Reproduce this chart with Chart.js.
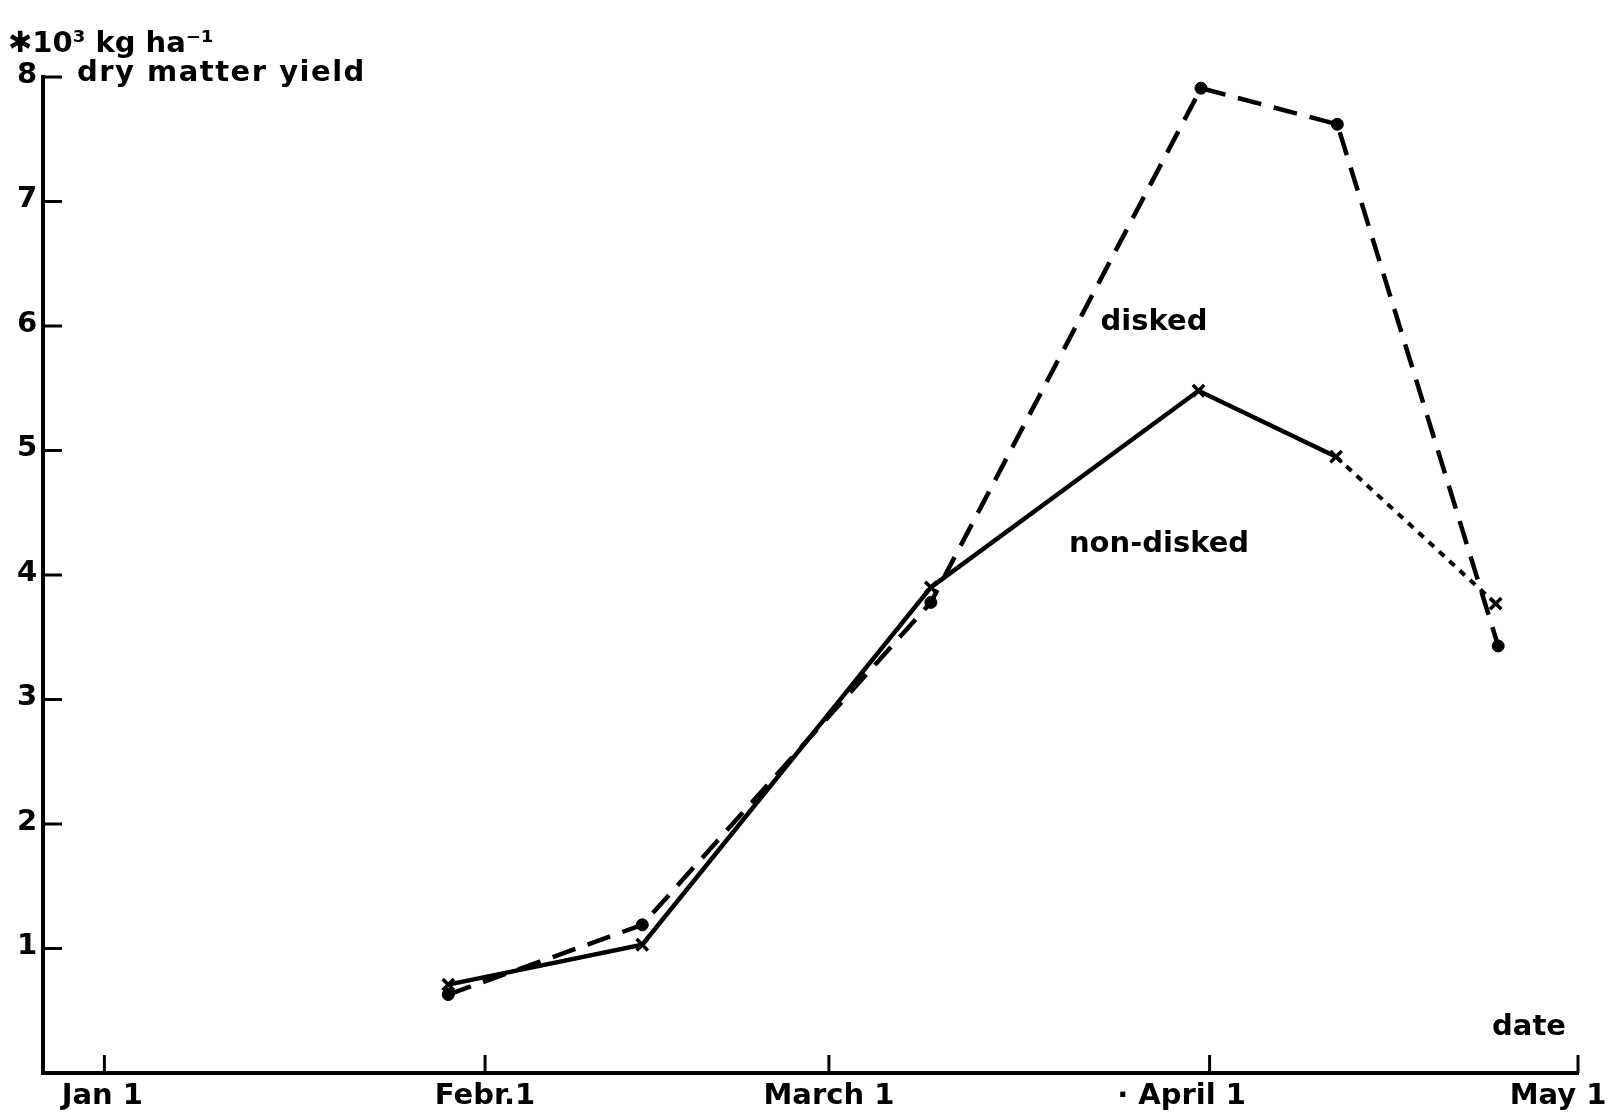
<!DOCTYPE html>
<html>
<head>
<meta charset="utf-8">
<script src="https://cdn.jsdelivr.net/npm/chart.js@4.4.1/dist/chart.umd.min.js"></script>
<style>
html,body{margin:0;padding:0;background:#fff;}
#wrap{width:1617px;height:1117px;position:relative;}
</style>
</head>
<body>
<div id="wrap"><canvas id="c" width="1617" height="1117"></canvas></div>
<script>
// Day of year (Jan 1 = 0) of each sampling point
const diskedDays = [28, 43.8, 67.3, 89.3, 100.4, 113.5];
const diskedYield = [0.63, 1.19, 3.78, 7.91, 7.62, 3.43];
const nonDiskedDays = [28, 43.8, 67.3, 89.1, 100.3, 113.3];
const nonDiskedYield = [0.71, 1.03, 3.90, 5.48, 4.95, 3.77];
const xTickValues = [0, 31, 59, 90, 120];
const xTickLabels = ["Jan 1", "Febr.1", "March 1", "· April 1", "May 1"];
const yTickValues = [1, 2, 3, 4, 5, 6, 7, 8];
const yTickLabels = ["1", "2", "3", "4", "5", "6", "7", "8"];
const seriesNames = ["disked", "non-disked"];

const FONT = "bold 29px 'DejaVu Sans'";

const drawPlugin = {
  id: 'manualAxes',
  afterDraw(chart) {
    const ctx = chart.ctx;
    const xs = chart.scales.x, ys = chart.scales.y;
    const area = chart.chartArea;
    ctx.save();
    ctx.strokeStyle = '#000';
    ctx.fillStyle = '#000';
    ctx.lineWidth = 3;
    ctx.lineCap = 'butt';
    // x ticks (inward)
    xTickValues.forEach((v, i) => {
      const px = xs.getPixelForValue(v);
      ctx.beginPath();
      ctx.moveTo(px, area.bottom);
      ctx.lineTo(px, area.bottom - 18);
      ctx.stroke();
      ctx.font = FONT;
      ctx.textAlign = 'center';
      ctx.textBaseline = 'middle';
      let cx = px;
      if (i === xTickLabels.length - 1) cx = px - 20;
      if (i === 3) cx = px - 28;
      if (i === 0) cx = px - 2;
      ctx.fillText(xTickLabels[i], cx, area.bottom + 23);
    });
    // y ticks (inward)
    yTickValues.forEach((v, i) => {
      const py = ys.getPixelForValue(v);
      ctx.beginPath();
      ctx.moveTo(area.left, py);
      ctx.lineTo(area.left + 19, py);
      ctx.stroke();
      ctx.font = FONT;
      ctx.textAlign = 'center';
      ctx.textBaseline = 'middle';
      ctx.fillText(yTickLabels[i], 27, py - 2);
    });
    // y axis title
    ctx.font = FONT;
    ctx.textAlign = 'left';
    ctx.textBaseline = 'middle';
    ctx.fillText('✱10³ kg ha⁻¹', 8, 44);
    ctx.save();
    ctx.letterSpacing = '1.5px';
    ctx.fillText('dry matter yield', 77, ys.getPixelForValue(8) - 4);
    ctx.restore();
    // x axis title
    ctx.textAlign = 'center';
    ctx.fillText('date', 1529, 1027);
    // series labels
    ctx.fillText(seriesNames[0], 1154, 322);
    ctx.fillText(seriesNames[1], 1159, 544);
    ctx.restore();
  }
};

new Chart(document.getElementById('c'), {
  type: 'scatter',
  data: {
    datasets: [
      {
        label: seriesNames[0],
        data: diskedDays.map((d, i) => ({x: d, y: diskedYield[i]})),
        showLine: true,
        borderColor: '#000',
        backgroundColor: '#000',
        borderWidth: 4.5,
        borderDash: [24, 13],
        pointStyle: 'circle',
        pointRadius: 6,
        pointBorderWidth: 1,
        tension: 0
      },
      {
        label: seriesNames[1],
        data: nonDiskedDays.map((d, i) => ({x: d, y: nonDiskedYield[i]})),
        showLine: true,
        borderColor: '#000',
        backgroundColor: '#000',
        borderWidth: 4.5,
        pointStyle: 'crossRot',
        pointRadius: 8,
        pointBorderWidth: 3.5,
        tension: 0,
        segment: {
          borderDash: c => c.p0DataIndex === nonDiskedDays.length - 2 ? [7, 7] : undefined,
          borderWidth: c => c.p0DataIndex === nonDiskedDays.length - 2 ? 4 : undefined
        }
      }
    ]
  },
  options: {
    responsive: false,
    animation: false,
    layout: {padding: {left: 35, right: 39, top: 77, bottom: 36}},
    plugins: {legend: {display: false}, tooltip: {enabled: false}},
    scales: {
      x: {
        type: 'linear', min: -5, max: 120,
        ticks: {display: false},
        grid: {display: false},
        border: {display: true, color: '#000', width: 4}
      },
      y: {
        type: 'linear', min: 0, max: 8,
        ticks: {display: false},
        grid: {display: false},
        border: {display: true, color: '#000', width: 4}
      }
    }
  },
  plugins: [drawPlugin]
});
</script>
</body>
</html>
